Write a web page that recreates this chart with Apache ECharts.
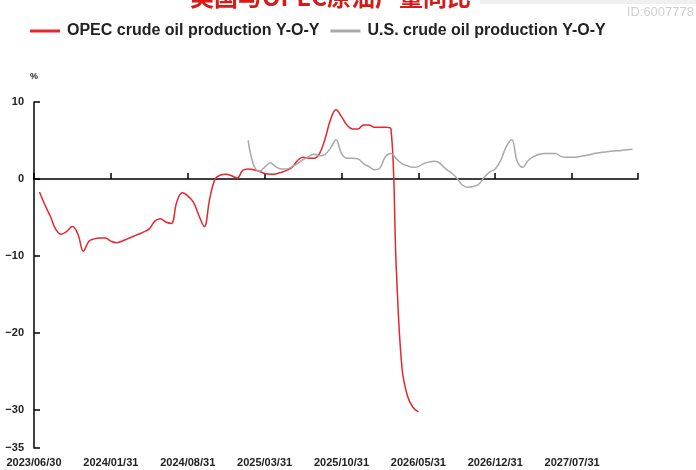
<!DOCTYPE html>
<html><head><meta charset="utf-8">
<script src="https://cdn.jsdelivr.net/npm/echarts@6/dist/echarts.min.js"></script>
<style>html,body{margin:0;padding:0;background:#fff}#c{width:696px;height:470px}</style>
</head><body><div id="c"></div>
<script>
// semi-monthly categories from 2023/06/30 to 2028/01/31
function pad(n){return (n<10?'0':'')+n;}
const categories = [];
for (let i = 0; i <= 110; i++) {
  const m = Math.floor((i + 1) / 2); // months after 2023/06
  const y = 2023 + Math.floor((5 + m) / 12);
  const mo = (5 + m) % 12 + 1;
  if (i % 2 === 0) {
    const last = new Date(y, mo, 0).getDate();
    categories.push(y + '/' + pad(mo) + '/' + pad(last));
  } else {
    categories.push(y + '/' + pad(mo) + '/15');
  }
}
const tickLabels = ['2023/06/30','2024/01/31','2024/08/31','2025/03/31','2025/10/31','2026/05/31','2026/12/31','2027/07/31'];
const yTicks = [-35, -30, -20, -10, 0, 10];

const opecYoY = [null, -1.7, -3.4, -4.9, -6.6, -7.2, -6.8, -6.2, -7.2, -9.4,
  -8.1, -7.8, -7.7, -7.7, -8.1, -8.3, -8.1, -7.8, -7.5, -7.2,
  -6.9, -6.5, -5.5, -5.2, -5.6, -5.8, -3.0, -1.8, -2.2, -3.0,
  -4.7, -6.2, -2.6, 0.0, 0.5, 0.6, 0.4, 0.1, 1.1, 1.3,
  1.2, 1.0, 0.7, 0.6, 0.65, 0.85, 1.1, 1.5, 2.4, 2.8,
  2.7, 2.7, 3.3, 5.2, 7.7, 9.0, 8.1, 7.0, 6.5, 6.5,
  7.0, 7.0, 6.7, 6.7, 6.7, 6.5, -12.0, -24.5, -28.2, -29.7,
  -30.3];
const usYoY = [null,null,null,null,null,null,null,null,null,null,
  null,null,null,null,null,null,null,null,null,null,
  null,null,null,null,null,null,null,null,null,null,
  null,null,null,null,null,null,null,null,null,5.0,
  1.8, 1.0, 1.5, 2.1, 1.6, 1.3, 1.3, 1.6, 2.0, 2.5,
  2.9, 3.2, 3.0, 3.2, 4.0, 5.1, 3.3, 2.7, 2.7, 2.6,
  2.0, 1.6, 1.2, 1.4, 2.9, 3.3, 2.6, 2.0, 1.7, 1.5,
  1.6, 2.0, 2.2, 2.3, 2.0, 1.3, 0.8, 0.1, -0.8, -1.1,
  -1.0, -0.7, 0.2, 0.9, 1.3, 2.4, 4.2, 5.1, 2.3, 1.5,
  2.4, 2.9, 3.2, 3.3, 3.3, 3.3, 2.9, 2.8, 2.8, 2.85,
  3.0, 3.1, 3.3, 3.4, 3.5, 3.6, 3.65, 3.7, 3.8, 3.85];

const chart = echarts.init(document.getElementById('c'));
const fontFam = '"Liberation Sans", Arial, sans-serif';
chart.setOption({
  animation: false,
  backgroundColor: '#fff',
  title: {
    text: '美国与OPEC原油产量同比',
    left: 190, top: -15, padding: 0,
    textStyle: {color: '#d51a1a', fontSize: 24, fontWeight: 'bold', fontFamily: '"Noto Sans CJK SC", sans-serif'}
  },
  graphic: [
    {type: 'rect', left: 480, top: 0, shape: {width: 216, height: 4}, style: {fill: '#f0f0f0'}, z: -1},
    {type: 'text', right: 2, top: 6, style: {text: 'ID:6007778', fill: '#d0d0d0', font: '13px ' + fontFam}}
  ],
  legend: {
    left: 30, top: 23, padding: 0,
    icon: 'rect',
    itemWidth: 30, itemHeight: 3, itemGap: 11,
    textStyle: {fontSize: 16, fontWeight: 'bold', color: '#222', fontFamily: fontFam, padding: [0, 0, 0, 2]},
    data: ['OPEC crude oil production Y-O-Y', 'U.S. crude oil production Y-O-Y']
  },
  grid: {left: 34, top: 102, right: 58, bottom: 22, outerBoundsMode: 'none', containLabel: false},
  xAxis: [{
    type: 'category',
    data: categories,
    boundaryGap: false,
    axisLine: {onZero: true, lineStyle: {color: '#000', width: 1.5}},
    axisTick: {inside: true, length: 6, lineStyle: {color: '#000', width: 1.5},
      interval: function (i) { return i % 14 === 0 || i === categories.length - 1; }},
    axisLabel: {show: false},
    splitLine: {show: false}
  }, {
    type: 'category',
    position: 'bottom',
    data: categories,
    boundaryGap: false,
    axisLine: {show: false, onZero: false},
    axisTick: {show: false},
    axisLabel: {
      margin: 9,
      interval: function (i) { return i % 14 === 0; },
      formatter: function (v) { return tickLabels.indexOf(v) >= 0 ? v : ''; },
      color: '#222', fontSize: 11, fontWeight: 'bold', fontFamily: fontFam
    },
    splitLine: {show: false}
  }],
  yAxis: {
    type: 'value',
    min: -35, max: 10,
    name: '%',
    nameLocation: 'end',
    nameGap: 21,
    nameTextStyle: {align: 'center', fontSize: 9, fontWeight: 'bold', color: '#222', fontFamily: fontFam},
    axisLine: {show: true, lineStyle: {color: '#000', width: 1.5}},
    axisTick: {show: true, inside: true, length: 6, customValues: yTicks, lineStyle: {color: '#000', width: 1.5}},
    axisLabel: {
      customValues: yTicks, margin: 10,
      formatter: function (v) { return String(v).replace('-', '\u2212'); },
      color: '#222', fontSize: 11, fontWeight: 'bold', fontFamily: fontFam
    },
    splitLine: {show: false}
  },
  series: [
    {
      name: 'OPEC crude oil production Y-O-Y', type: 'line', data: opecYoY, xAxisIndex: 0,
      smooth: 0.4, showSymbol: false, symbol: 'none',
      lineStyle: {color: '#e6262d', width: 1.5}, itemStyle: {color: '#e6262d'}
    },
    {
      name: 'U.S. crude oil production Y-O-Y', type: 'line', data: usYoY, xAxisIndex: 0,
      smooth: 0.4, showSymbol: false, symbol: 'none',
      lineStyle: {color: '#a8a8a8', width: 1.5}, itemStyle: {color: '#a8a8a8'}
    }
  ]
});
</script></body></html>
